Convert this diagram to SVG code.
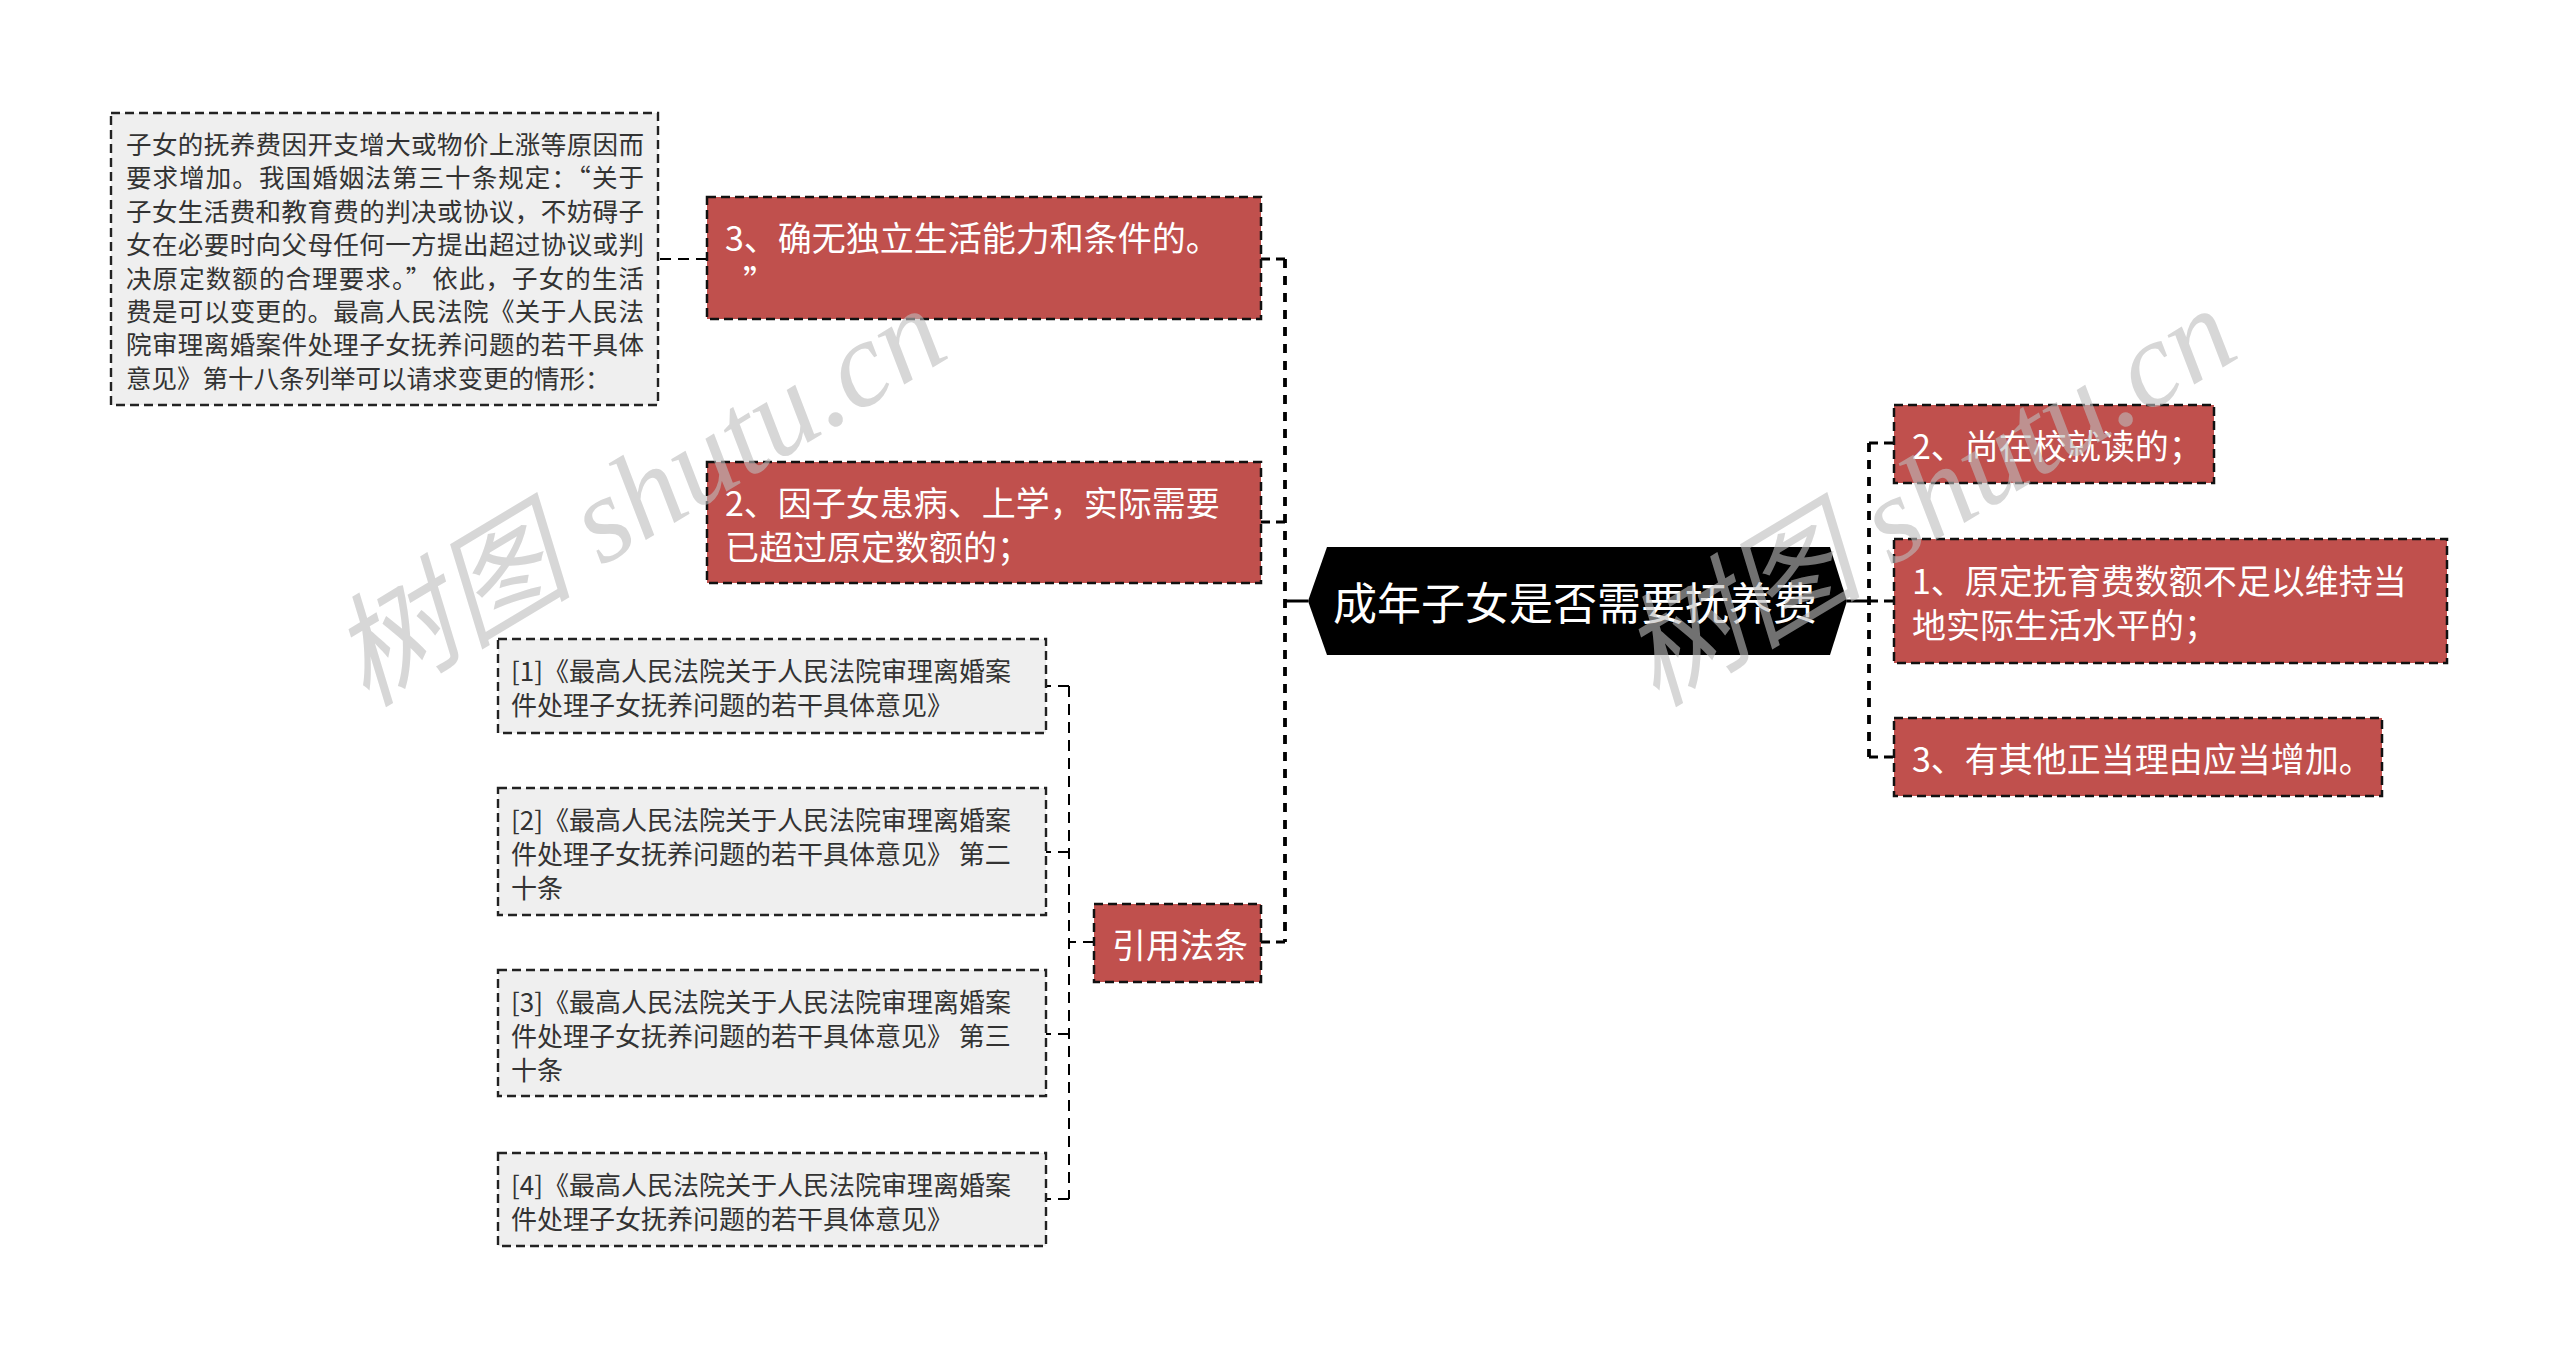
<svg xmlns="http://www.w3.org/2000/svg" width="2560" height="1358" viewBox="0 0 2560 1358">
<style>
.bg{fill:#ffffff}
.red{fill:#C0504D;stroke:#111;stroke-width:2.5;stroke-dasharray:9 5}
.gray{fill:#EFEFEF;stroke:#222;stroke-width:2.4;stroke-dasharray:9 5}
.hex{fill:#000}
.t{font-family:"Microsoft YaHei","Noto Sans CJK SC","Noto Sans",sans-serif;dominant-baseline:central}
.tw{fill:#fff;font-size:34px}
.tc{fill:#fff;font-size:44px}
.tg{fill:#333;font-size:25.5px}
.tr{font-size:26px}
.trunk{fill:none;stroke:#000;stroke-width:3.8;stroke-dasharray:9 8}
.br{fill:none;stroke:#000;stroke-width:3;stroke-dasharray:9 6}
.thin{fill:none;stroke:#000;stroke-width:2;stroke-dasharray:11 7}
.solid{fill:none;stroke:#000;stroke-width:3}
.wm{font-family:"Liberation Serif","Noto Sans CJK SC",serif;font-style:italic;font-size:122px;fill:#bdbdbd;opacity:0.6}
</style>
<rect class="bg" x="0" y="0" width="2560" height="1358"/>

<g id="connectors">
  <path class="trunk" d="M1285 259 V942"/>
  <path class="solid" d="M1308 601 H1285"/>
  <path class="br" d="M1285 259 H1261"/>
  <path class="br" d="M1285 522 H1261"/>
  <path class="br" d="M1285 942 H1261"/>
  <path class="trunk" d="M1869 443 V757"/>
  <path class="solid" d="M1847 601 H1869"/>
  <path class="br" d="M1869 443 H1894"/>
  <path class="br" d="M1869 601 H1894"/>
  <path class="br" d="M1869 757 H1894"/>
  <path class="thin" d="M707 259 H658"/>
  <path class="thin" d="M1069 686 V1199"/>
  <path class="thin" d="M1094 942 H1069"/>
  <path class="thin" d="M1069 686 H1046"/>
  <path class="thin" d="M1069 852 H1046"/>
  <path class="thin" d="M1069 1034 H1046"/>
  <path class="thin" d="M1069 1199 H1046"/>
</g>

<g id="root">
  <polygon class="hex" points="1308,601 1327,547 1830,547 1847,601 1830,655 1327,655"/>
  <text class="t tc" x="1333" y="601">成年子女是否需要抚养费</text>
</g>

<g id="n-left3">
  <rect class="red" x="707" y="197" width="554" height="122"/>
  <text class="t tw" x="725" y="236">3、确无独立生活能力和条件的。</text>
  <text class="t tw" x="743" y="280">”</text>
</g>

<g id="n-note">
  <rect class="gray" x="111" y="113" width="547" height="292"/>
  <text class="t tg" x="126" y="142.5" textLength="518" lengthAdjust="spacing">子女的抚养费因开支增大或物价上涨等原因而</text>
  <text class="t tg" x="126" y="175.9" textLength="518" lengthAdjust="spacing">要求增加。我国婚姻法第三十条规定：“关于</text>
  <text class="t tg" x="126" y="209.3" textLength="518" lengthAdjust="spacing">子女生活费和教育费的判决或协议，不妨碍子</text>
  <text class="t tg" x="126" y="242.7" textLength="518" lengthAdjust="spacing">女在必要时向父母任何一方提出超过协议或判</text>
  <text class="t tg" x="126" y="276.1" textLength="518" lengthAdjust="spacing">决原定数额的合理要求。”依此，子女的生活</text>
  <text class="t tg" x="126" y="309.5" textLength="518" lengthAdjust="spacing">费是可以变更的。最高人民法院《关于人民法</text>
  <text class="t tg" x="126" y="342.9" textLength="518" lengthAdjust="spacing">院审理离婚案件处理子女抚养问题的若干具体</text>
  <text class="t tg" x="126" y="376.3">意见》第十八条列举可以请求变更的情形：</text>
</g>

<g id="n-left2">
  <rect class="red" x="707" y="462" width="554" height="121"/>
  <text class="t tw" x="725" y="501">2、因子女患病、上学，实际需要</text>
  <text class="t tw" x="725" y="545">已超过原定数额的；</text>
</g>

<g id="n-cite">
  <rect class="red" x="1094" y="904" width="167" height="78"/>
  <text class="t tw" x="1112" y="943">引用法条</text>
</g>

<g id="n-ref1">
  <rect class="gray" x="498" y="639" width="548" height="94"/>
  <text class="t tg tr" x="511" y="669">[1]《最高人民法院关于人民法院审理离婚案</text>
  <text class="t tg tr" x="511" y="703">件处理子女抚养问题的若干具体意见》</text>
</g>
<g id="n-ref2">
  <rect class="gray" x="498" y="788" width="548" height="127"/>
  <text class="t tg tr" x="511" y="818">[2]《最高人民法院关于人民法院审理离婚案</text>
  <text class="t tg tr" x="511" y="852">件处理子女抚养问题的若干具体意见》 第二</text>
  <text class="t tg tr" x="511" y="886">十条</text>
</g>
<g id="n-ref3">
  <rect class="gray" x="498" y="970" width="548" height="126"/>
  <text class="t tg tr" x="511" y="1000">[3]《最高人民法院关于人民法院审理离婚案</text>
  <text class="t tg tr" x="511" y="1034">件处理子女抚养问题的若干具体意见》 第三</text>
  <text class="t tg tr" x="511" y="1068">十条</text>
</g>
<g id="n-ref4">
  <rect class="gray" x="498" y="1153" width="548" height="93"/>
  <text class="t tg tr" x="511" y="1183">[4]《最高人民法院关于人民法院审理离婚案</text>
  <text class="t tg tr" x="511" y="1217">件处理子女抚养问题的若干具体意见》</text>
</g>

<g id="n-right2">
  <rect class="red" x="1894" y="405" width="320" height="78"/>
  <text class="t tw" x="1912" y="444">2、尚在校就读的；</text>
</g>
<g id="n-right1">
  <rect class="red" x="1894" y="539" width="553" height="124"/>
  <text class="t tw" x="1912" y="579">1、原定抚育费数额不足以维持当</text>
  <text class="t tw" x="1912" y="623">地实际生活水平的；</text>
</g>
<g id="n-right3">
  <rect class="red" x="1894" y="718" width="488" height="78"/>
  <text class="t tw" x="1912" y="757">3、有其他正当理由应当增加。</text>
</g>

<g id="watermarks">
  <text class="wm" transform="translate(366,708) rotate(-31)">树图 shutu.cn</text>
  <text class="wm" transform="translate(1656,708) rotate(-31)">树图 shutu.cn</text>
  <text class="wm" transform="translate(350,1760) rotate(-31)">树图 shutu.cn</text>
  <text class="wm" transform="translate(1640,1760) rotate(-31)">树图 shutu.cn</text>
</g>
</svg>
